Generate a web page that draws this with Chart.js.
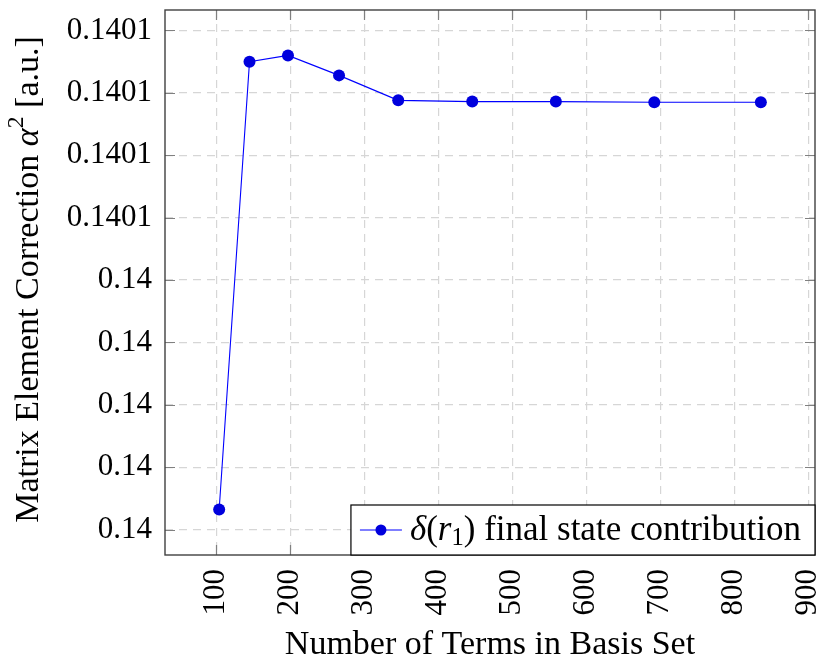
<!DOCTYPE html>
<html>
<head>
<meta charset="utf-8">
<script src="https://cdn.jsdelivr.net/npm/chart.js@4/dist/chart.umd.min.js"></script>
<style>
  html, body { margin: 0; padding: 0; background: #fff; }
  canvas { display: block; }
</style>
</head>
<body>
<canvas id="chartBasis" width="824" height="661"></canvas>
<script>
// Convergence of the delta(r1) final state term with basis size
const termCounts = [104, 145, 197, 266, 346, 446, 559, 692, 836];
const deltaR1 = [0.1400032, 0.1400750, 0.1400760, 0.1400728, 0.1400688, 0.1400686, 0.1400686, 0.1400685, 0.1400685];

const xTicks = [100, 200, 300, 400, 500, 600, 700, 800, 900];
const yTicks = [0.14000, 0.14001, 0.14002, 0.14003, 0.14004, 0.14005, 0.14006, 0.14007, 0.14008];
const yTickLabels = ['0.14', '0.14', '0.14', '0.14', '0.14', '0.1401', '0.1401', '0.1401', '0.1401'];

const FONT = '"Liberation Serif", "Times New Roman", serif';
const TICK_FS = 31;
const FS = 34;
const LEGEND_FS = 35;

// axis limits padded by 10% of the data span
function padded(vals) {
  const lo = Math.min(...vals), hi = Math.max(...vals);
  const d = (hi - lo) * 0.1;
  return [lo - d, hi + d];
}
const [xMin, xMax] = padded(termCounts);
const [yMin, yMax] = padded(deltaR1);

// draws runs of text with italic / sub / superscript pieces
function runFont(r, fs) {
  const size = r.sub || r.sup ? fs * 0.7 : fs;
  return (r.italic ? 'italic ' : '') + size + 'px ' + FONT;
}
function drawRuns(ctx, runs, x, y, fs) {
  for (const r of runs) {
    ctx.font = runFont(r, fs);
    const dy = r.sub ? fs * 0.22 : r.sup ? -fs * 0.36 : 0;
    ctx.fillText(r.t, x, y + dy);
    x += ctx.measureText(r.t).width;
  }
  return x;
}
function runsWidth(ctx, runs, fs) {
  let w = 0;
  for (const r of runs) {
    ctx.font = runFont(r, fs);
    w += ctx.measureText(r.t).width;
  }
  return w;
}

const yTitle = [
  { t: 'Matrix Element Correction ' },
  { t: 'α', italic: true },
  { t: '2', sup: true },
  { t: ' [a.u.]' }
];
const legendText = [
  { t: 'δ', italic: true },
  { t: '(' },
  { t: 'r', italic: true },
  { t: '1', sub: true },
  { t: ') final state contribution' }
];

const noPadding = s => {
  s.paddingLeft = 0; s.paddingRight = 0; s.paddingTop = 0; s.paddingBottom = 0;
};

const framePlugin = {
  id: 'frame',
  beforeDatasetsDraw(chart) {
    const { ctx, chartArea: a, scales } = chart;
    ctx.save();
    // inner tick marks on all four sides
    ctx.strokeStyle = '#808080';
    ctx.lineWidth = 1.2;
    ctx.beginPath();
    for (const v of xTicks) {
      const px = Math.round(scales.x.getPixelForValue(v)) + 0.5;
      ctx.moveTo(px, a.bottom); ctx.lineTo(px, a.bottom - 10);
      ctx.moveTo(px, a.top); ctx.lineTo(px, a.top + 10);
    }
    for (const v of yTicks) {
      const py = Math.round(scales.y.getPixelForValue(v)) + 0.5;
      ctx.moveTo(a.left, py); ctx.lineTo(a.left + 10, py);
      ctx.moveTo(a.right, py); ctx.lineTo(a.right - 10, py);
    }
    ctx.stroke();
    ctx.strokeStyle = '#404040';
    ctx.lineWidth = 1.4;
    ctx.strokeRect(a.left, a.top, a.right - a.left, a.bottom - a.top);

    // rotated y axis title
    ctx.fillStyle = '#000';
    ctx.textBaseline = 'middle';
    ctx.translate(29, (a.top + a.bottom) / 2 - 3);
    ctx.rotate(-Math.PI / 2);
    const w = runsWidth(ctx, yTitle, FS);
    drawRuns(ctx, yTitle, -w / 2, 0, FS);
    ctx.restore();
  },
  afterDatasetsDraw(chart) {
    const { ctx, chartArea: a } = chart;
    const ds = chart.data.datasets[0];
    ctx.save();
    const tw = runsWidth(ctx, legendText, LEGEND_FS);
    const h = 50;
    const w = 9 + 42 + 8 + tw + 14;
    const left = a.right - w, top = a.bottom - h;
    ctx.fillStyle = '#fff';
    ctx.fillRect(left, top, w, h);
    ctx.strokeStyle = '#000';
    ctx.lineWidth = 1.2;
    ctx.strokeRect(left, top, w, h);
    const cy = top + h / 2;
    ctx.strokeStyle = ds.borderColor;
    ctx.lineWidth = ds.borderWidth;
    ctx.beginPath();
    ctx.moveTo(left + 9, cy); ctx.lineTo(left + 51, cy);
    ctx.stroke();
    ctx.fillStyle = ds.pointBackgroundColor;
    ctx.beginPath();
    ctx.arc(left + 30, cy, 5.5, 0, Math.PI * 2);
    ctx.fill();
    ctx.fillStyle = '#000';
    ctx.textBaseline = 'middle';
    drawRuns(ctx, legendText, left + 59, cy + 1, LEGEND_FS);
    ctx.restore();
  }
};

const ctxBasis = document.getElementById('chartBasis');
new Chart(ctxBasis, {
  type: 'line',
  data: {
    datasets: [{
      label: 'δ(r1) final state contribution',
      data: termCounts.map((n, i) => ({ x: n, y: deltaR1[i] })),
      borderColor: '#0000ff',
      borderWidth: 1.1,
      pointRadius: 6,
      pointBackgroundColor: '#0000dd',
      pointBorderColor: '#0000dd',
      pointBorderWidth: 0,
      tension: 0,
      fill: false
    }]
  },
  options: {
    responsive: false,
    animation: false,
    layout: { padding: { top: 10, right: 9, left: 0, bottom: 0 } },
    plugins: { legend: { display: false }, tooltip: { enabled: false } },
    scales: {
      x: {
        type: 'linear',
        min: xMin,
        max: xMax,
        afterBuildTicks: s => { s.ticks = xTicks.map(v => ({ value: v })); },
        afterFit: s => { s.height = 106; noPadding(s); },
        border: { display: false, dash: [8, 6] },
        grid: { color: '#d6d6d6', lineWidth: 1.2, drawTicks: false },
        ticks: {
          minRotation: 90,
          maxRotation: 90,
          padding: 14,
          color: '#000',
          font: { family: FONT, size: TICK_FS }
        },
        title: {
          display: true,
          text: 'Number of Terms in Basis Set',
          color: '#000',
          font: { family: FONT, size: FS },
          padding: { top: 0, bottom: -4 }
        }
      },
      y: {
        type: 'linear',
        min: yMin,
        max: yMax,
        afterBuildTicks: s => { s.ticks = yTicks.map(v => ({ value: v })); },
        afterFit: s => { s.width = 165; noPadding(s); },
        border: { display: false, dash: [8, 6] },
        grid: { color: '#d6d6d6', lineWidth: 1.2, drawTicks: false },
        ticks: {
          padding: 13,
          color: '#000',
          font: { family: FONT, size: TICK_FS },
          callback: (v, i) => yTickLabels[i]
        }
      }
    }
  },
  plugins: [framePlugin]
});
</script>
</body>
</html>
